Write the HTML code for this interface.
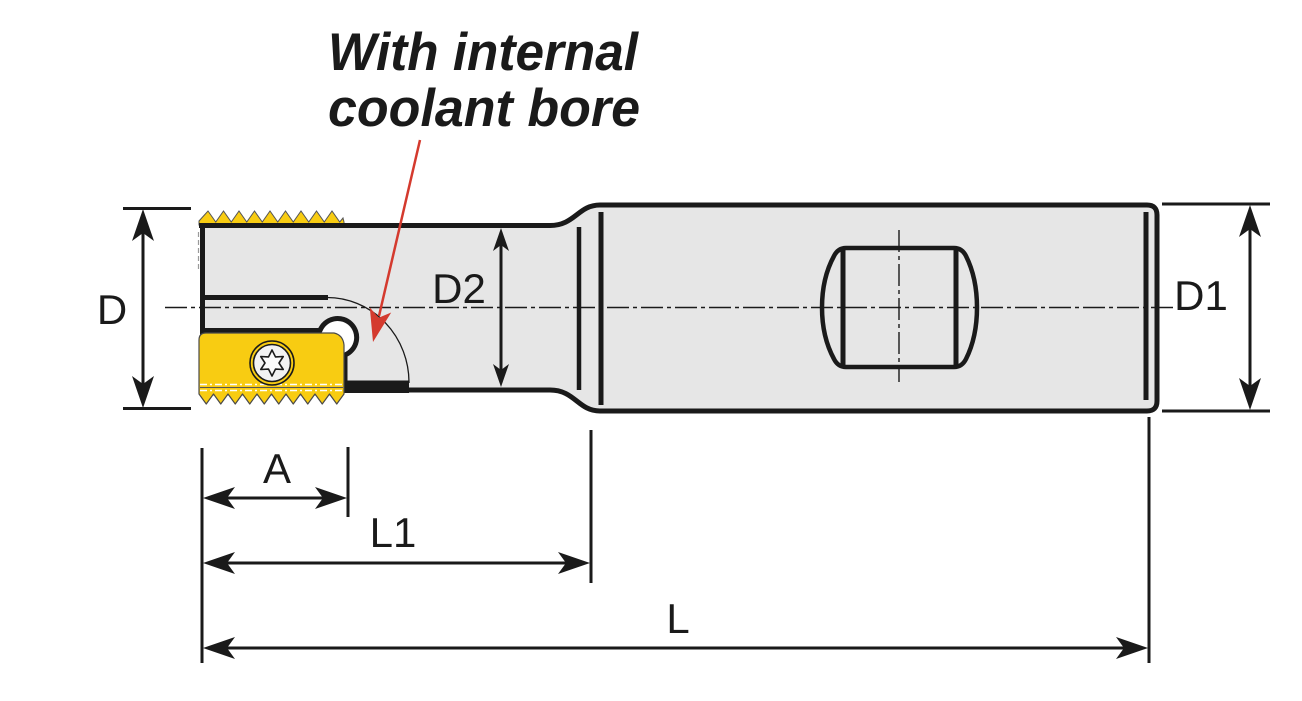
<!DOCTYPE html>
<html>
<head>
<meta charset="utf-8">
<style>
  html,body{margin:0;padding:0;background:#fff;}
  svg{display:block;}
</style>
</head>
<body>
<svg width="1302" height="701" viewBox="0 0 1302 701" xmlns="http://www.w3.org/2000/svg">
  <rect x="0" y="0" width="1302" height="701" fill="#ffffff"/>

  <!-- Title -->
  <g font-family="'Liberation Sans', Arial, sans-serif" font-weight="bold" font-style="italic" fill="#1a1a1a" font-size="53">
    <text x="328" y="70" textLength="310" lengthAdjust="spacingAndGlyphs">With internal</text>
    <text x="328" y="126" textLength="312" lengthAdjust="spacingAndGlyphs">coolant bore</text>
  </g>

  <!-- Shank + neck fill/outline -->
  <path d="M 203 225.5 L 550 225.5 C 575 225.5 578 205 600 205 L 1147 205 Q 1157 205 1157 215 L 1157 401 Q 1157 411 1147 411 L 600 411 C 578 411 575 390 550 390 L 203 390 Z" fill="#e6e6e6" stroke="none"/>
  <path d="M 200 225.5 L 550 225.5 C 575 225.5 578 205 600 205 L 1147 205 Q 1157 205 1157 215 L 1157 401 Q 1157 411 1147 411 L 600 411 C 578 411 575 390 550 390 L 343 390" fill="none" stroke="#1a1a1a" stroke-width="5" stroke-linejoin="round"/>

  <!-- Shank vertical lines -->
  <line x1="579" y1="227" x2="579" y2="390" stroke="#1a1a1a" stroke-width="4.5"/>
  <line x1="601" y1="212" x2="601" y2="405" stroke="#1a1a1a" stroke-width="5"/>
  <line x1="1146" y1="212" x2="1146" y2="400" stroke="#1a1a1a" stroke-width="5"/>

  <!-- Centerline -->
  <line x1="165" y1="307.5" x2="1176" y2="307.5" stroke="#1a1a1a" stroke-width="1.6" stroke-dasharray="22 4 4 4"/>
  <line x1="899" y1="230" x2="899" y2="382" stroke="#1a1a1a" stroke-width="1.4" stroke-dasharray="22 4 4 4"/>

  <!-- Weldon flat -->
  <path d="M 846 248 L 954 248 Q 962 248 966 256 Q 977 278 977 307.5 Q 977 337 966 359 Q 962 367 954 367 L 846 367 Q 838 367 834 359 Q 822 337 822 307.5 Q 822 278 834 256 Q 838 248 846 248 Z" fill="none" stroke="#1a1a1a" stroke-width="4.5"/>
  <line x1="843" y1="250" x2="843" y2="366" stroke="#1a1a1a" stroke-width="5"/>
  <line x1="956" y1="250" x2="956" y2="366" stroke="#1a1a1a" stroke-width="5"/>

  <!-- Head details -->
  <line x1="202.5" y1="223" x2="202.5" y2="340" stroke="#1a1a1a" stroke-width="5"/>
  <line x1="198.5" y1="232" x2="198.5" y2="270" stroke="#9a9a9a" stroke-width="1.2" stroke-dasharray="5 3"/>
  <line x1="203" y1="297.5" x2="328" y2="297.5" stroke="#1a1a1a" stroke-width="5"/>
  <path d="M 327 297.5 A 82 85 0 0 1 409 383" fill="none" stroke="#1a1a1a" stroke-width="1.3"/>

  <!-- coolant bore circle -->
  <circle cx="337" cy="338" r="17" fill="#ffffff"/>
  <path d="M 203 330.5 L 320 330.5 A 19 19 0 1 1 345 355 L 345 390" fill="none" stroke="#1a1a1a" stroke-width="5" stroke-linejoin="round"/>
  <rect x="343" y="380.5" width="66" height="12.5" fill="#1a1a1a"/>

  <!-- Top teeth strip -->
  <path d="M 199 225 L 199 221 L 208 211 L 215.75 222 L 223.5 211 L 231.25 222 L 239 211 L 246.75 222 L 254.5 211 L 262.25 222 L 270 211 L 277.75 222 L 285.5 211 L 293.25 222 L 301 211 L 308.75 222 L 316.5 211 L 324.25 222 L 332 211 L 339.75 222 L 343 218 L 344 222 L 344 225 Z" fill="#f8cc12" stroke="#555" stroke-width="1"/>
  <line x1="199" y1="225.5" x2="350" y2="225.5" stroke="#1a1a1a" stroke-width="5"/>

  <!-- Insert -->
  <path d="M 206 333 L 334 333 Q 343 335 344 345 L 344 394 L 336.75 404 L 329.5 394 L 322.25 404 L 315 394 L 307.75 404 L 300.5 394 L 293.25 404 L 286 394 L 278.75 404 L 271.5 394 L 264.25 404 L 257 394 L 249.75 404 L 242.5 394 L 235.25 404 L 228 394 L 220.75 404 L 213.5 394 L 206.25 404 L 199 394 L 199 340 Q 199 333 206 333 Z" fill="#f8cc12" stroke="#4a4a4a" stroke-width="1.2" stroke-linejoin="round"/>
  <line x1="200" y1="384.5" x2="343" y2="384.5" stroke="#ffffff" stroke-width="1.5" stroke-dasharray="7 3 2 3"/>
  <line x1="200" y1="387.5" x2="343" y2="387.5" stroke="#555" stroke-width="1"/>
  <line x1="200" y1="390.5" x2="343" y2="390.5" stroke="#ffffff" stroke-width="1.5" stroke-dasharray="7 3 2 3"/>

  <!-- Torx screw -->
  <circle cx="272" cy="363" r="22" fill="#f8cc12" stroke="#1a1a1a" stroke-width="1.6"/>
  <circle cx="272" cy="363" r="18.5" fill="#f2f2f2" stroke="#1a1a1a" stroke-width="1.6"/>
  <polygon points="272,350 275.5,356.94 283.26,356.5 279,363 283.26,369.5 275.5,369.06 272,376 268.5,369.06 260.74,369.5 265,363 260.74,356.5 268.5,356.94" fill="#fafafa" stroke="#1a1a1a" stroke-width="1.6" stroke-linejoin="round"/>

  <!-- Red arrow -->
  <line x1="420" y1="140" x2="379" y2="316" stroke="#d43a2e" stroke-width="2.5"/>
  <polygon points="373,342 369.8,307.5 378.7,317.7 391.2,312.5" fill="#d43a2e"/>

  <!-- Dimension lines -->
  <g stroke="#1a1a1a" stroke-width="3" fill="none">
    <!-- D -->
    <line x1="123" y1="208.5" x2="191" y2="208.5"/>
    <line x1="123" y1="408.5" x2="191" y2="408.5"/>
    <line x1="143" y1="215" x2="143" y2="402"/>
    <!-- D1 -->
    <line x1="1162" y1="204" x2="1270" y2="204"/>
    <line x1="1162" y1="411" x2="1270" y2="411"/>
    <line x1="1250" y1="212" x2="1250" y2="403"/>
    <!-- D2 -->
    <line x1="501" y1="232" x2="501" y2="383"/>
    <!-- extension verticals -->
    <line x1="202" y1="448" x2="202" y2="663"/>
    <line x1="348" y1="447" x2="348" y2="517"/>
    <line x1="591" y1="430" x2="591" y2="583"/>
    <line x1="1149" y1="417" x2="1149" y2="663"/>
    <!-- horizontals -->
    <line x1="210" y1="498" x2="340" y2="498"/>
    <line x1="210" y1="563" x2="583" y2="563"/>
    <line x1="210" y1="648" x2="1141" y2="648"/>
  </g>
  <g fill="#1a1a1a">
    <polygon points="143,209 132,241 143,233 154,241"/>
    <polygon points="143,408 132,376 143,384 154,376"/>
    <polygon points="1250,205 1239,237 1250,229 1261,237"/>
    <polygon points="1250,410 1239,378 1250,386 1261,378"/>
    <polygon points="501,228 493,251 501,245 509,251"/>
    <polygon points="501,387 493,364 501,370 509,364"/>
    <polygon points="203,498 235,487 227,498 235,509"/>
    <polygon points="347,498 315,487 323,498 315,509"/>
    <polygon points="203,563 235,552 227,563 235,574"/>
    <polygon points="590,563 558,552 566,563 558,574"/>
    <polygon points="203,648 235,637 227,648 235,659"/>
    <polygon points="1148,648 1116,637 1124,648 1116,659"/>
  </g>

  <!-- Labels -->
  <g font-family="'Liberation Sans', Arial, sans-serif" font-size="42" fill="#1a1a1a" text-anchor="middle">
    <text x="112" y="324">D</text>
    <text x="459" y="303">D2</text>
    <text x="1201" y="310">D1</text>
    <text x="277" y="483">A</text>
    <text x="393" y="547">L1</text>
    <text x="678" y="633">L</text>
  </g>
</svg>
</body>
</html>
